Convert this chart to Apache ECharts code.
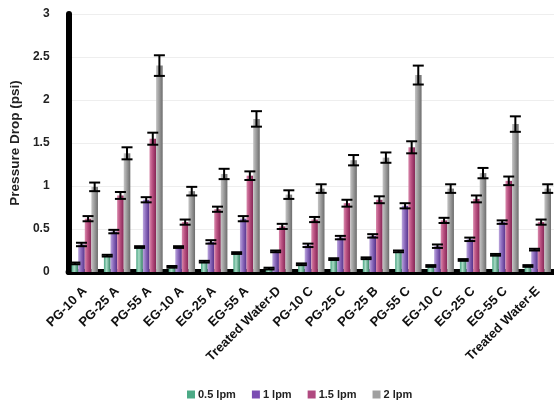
<!DOCTYPE html>
<html>
<head>
<meta charset="utf-8">
<script src="https://cdn.jsdelivr.net/npm/echarts@6/dist/echarts.min.js"></script>
<style>
  html, body { margin: 0; padding: 0; background: #fff; }
  #chart { width: 554px; height: 410px; }
</style>
</head>
<body>
<div id="chart"></div>
<script>
const categories = ['PG-10 A', 'PG-25 A', 'PG-55 A', 'EG-10 A', 'EG-25 A', 'EG-55 A', 'Treated Water-D',
  'PG-10 C', 'PG-25 C', 'PG-25 B', 'PG-55 C', 'EG-10 C', 'EG-25 C', 'EG-55 C', 'Treated Water-E'];
const seriesNames = ['0.5 lpm', '1 lpm', '1.5 lpm', '2 lpm'];

const flow05 = [0.10, 0.19, 0.29, 0.06, 0.12, 0.22, 0.04, 0.09, 0.15, 0.16, 0.24, 0.07, 0.14, 0.20, 0.07];
const flow1 = [0.32, 0.47, 0.84, 0.29, 0.35, 0.62, 0.24, 0.31, 0.40, 0.42, 0.77, 0.30, 0.38, 0.58, 0.26];
const flow15 = [0.62, 0.89, 1.55, 0.58, 0.73, 1.12, 0.53, 0.61, 0.80, 0.84, 1.45, 0.60, 0.85, 1.06, 0.58];
const flow2 = [0.99, 1.38, 2.40, 0.94, 1.14, 1.78, 0.90, 0.97, 1.30, 1.33, 2.29, 0.97, 1.15, 1.72, 0.97];

const err05 = [0.01, 0.01, 0.01, 0.01, 0.01, 0.01, 0.01, 0.01, 0.01, 0.01, 0.01, 0.01, 0.01, 0.01, 0.01];
const err1 = [0.02, 0.02, 0.03, 0.01, 0.02, 0.03, 0.01, 0.02, 0.02, 0.02, 0.03, 0.02, 0.02, 0.02, 0.01];
const err15 = [0.03, 0.04, 0.07, 0.03, 0.03, 0.05, 0.03, 0.03, 0.04, 0.04, 0.07, 0.03, 0.04, 0.05, 0.03];
const err2 = [0.05, 0.07, 0.12, 0.05, 0.06, 0.09, 0.05, 0.05, 0.06, 0.06, 0.11, 0.05, 0.06, 0.09, 0.05];

const values = [flow05, flow1, flow15, flow2];
const errors = [err05, err1, err15, err2];

// [light edge, middle, dark edge, legend colour]
const palettes = [
  ['#4aa482', '#a8dcc6', '#2f7e60', '#4caa86'],
  ['#bba6dc', '#9070c0', '#55308a', '#7a4cb2'],
  ['#d88aac', '#bc5484', '#842454', '#b04a80'],
  ['#c4c4c4', '#a2a2a2', '#6c6c6c', '#a0a0a0']
];

const BAR_W = 6.6;

const barGradient = p => ({
  type: 'linear', x: 0, y: 0, x2: 1, y2: 0,
  colorStops: [
    { offset: 0, color: p[0] },
    { offset: 0.4, color: p[1] },
    { offset: 1, color: p[2] }
  ]
});

const barSeries = seriesNames.map((name, j) => ({
  name: name,
  type: 'bar',
  barWidth: BAR_W,
  barGap: '0%',
  data: values[j],
  itemStyle: { color: barGradient(palettes[j]) },
  z: 2
}));

const errData = [];
values.forEach((arr, j) => {
  arr.forEach((v, i) => errData.push([i, j, v, errors[j][i]]));
});

const errorSeries = {
  type: 'custom',
  name: 'err',
  data: errData,
  encode: { x: 0, y: 2 },
  z: 5,
  silent: true,
  renderItem: function (params, api) {
    const i = api.value(0);
    const j = api.value(1);
    const v = api.value(2);
    const e = api.value(3);
    const hi = api.coord([i, v + e]);
    const lo = api.coord([i, v - e]);
    const x = hi[0] + (j - 1.5) * BAR_W;
    const cap = 5.5;
    const style = { stroke: '#000', lineWidth: 2 };
    return {
      type: 'group',
      children: [
        { type: 'line', shape: { x1: x, y1: hi[1], x2: x, y2: lo[1] }, style: style },
        { type: 'line', shape: { x1: x - cap, y1: hi[1], x2: x + cap, y2: hi[1] }, style: style },
        { type: 'line', shape: { x1: x - cap, y1: lo[1], x2: x + cap, y2: lo[1] }, style: style }
      ]
    };
  }
};

const chart = echarts.init(document.getElementById('chart'));
chart.setOption({
  animation: false,
  textStyle: { fontFamily: 'Liberation Sans, Arial, sans-serif' },
  grid: { left: 64, right: -5, top: 14, bottom: 138 },
  legend: {
    data: seriesNames.map((n, j) => ({ name: n, itemStyle: { color: palettes[j][3] } })),
    left: 182,
    top: 384,
    itemWidth: 8,
    itemHeight: 8,
    itemGap: 16,
    icon: 'rect',
    textStyle: { fontSize: 11, fontWeight: 'bold', color: '#222', padding: [0, 0, 0, -2] }
  },
  xAxis: {
    type: 'category',
    data: categories,
    offset: 3,
    axisLine: { lineStyle: { color: '#000', width: 6 } },
    axisTick: { show: false },
    axisLabel: {
      interval: 0,
      rotate: 45,
      margin: 14,
      fontSize: 13,
      fontWeight: 'bold',
      color: '#111'
    }
  },
  yAxis: {
    type: 'value',
    min: 0,
    max: 3,
    interval: 0.5,
    name: 'Pressure Drop (psi)',
    nameLocation: 'middle',
    nameGap: 42,
    nameTextStyle: { fontSize: 13.5, fontWeight: 'bold', color: '#222' },
    axisLine: { show: true, lineStyle: { color: '#000', width: 6 } },
    axisTick: { show: false },
    axisLabel: { fontSize: 12, fontWeight: 'bold', color: '#222', margin: 19 },
    splitLine: { lineStyle: { color: '#eeeeee', width: 1 } }
  },
  series: [...barSeries, errorSeries]
});
</script>
</body>
</html>
